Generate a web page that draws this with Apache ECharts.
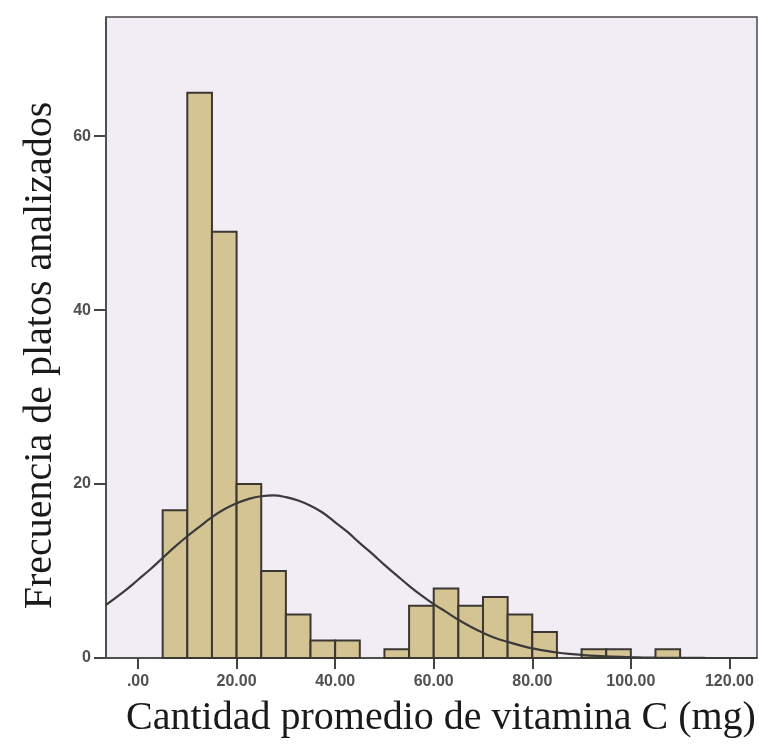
<!DOCTYPE html>
<html>
<head>
<meta charset="utf-8">
<script src="https://cdn.jsdelivr.net/npm/echarts@6/dist/echarts.min.js"></script>
<style>html,body{margin:0;padding:0;background:#fff}#c{width:759px;height:745px}</style>
</head>
<body>
<div id="c"></div>
<script>
// Histogram bins (mg of vitamin C), width 5
const binStarts = [5,10,15,20,25,30,35,40,45,50,55,60,65,70,75,80,85,90,95,100,105];
const binWidth = 5;
const counts = [17,65,49,20,10,5,2,2,0,1,6,8,6,7,5,3,0,1,1,0,1];

// Normal curve
const curveX = [-6.5,-2.5,0,2.5,5,7.5,10,12.5,15,17.5,20,22.5,25,27.5,30,32.5,35,37.5,40,42.5,45,47.5,50,52.5,55,57.5,60,62.5,65,67.5,70,72.5,75,77.5,80,82.5,85,87.5,90,95,100,105,110,115,125.6];
const curveY = [6.1,7.8,9.0,10.2,11.5,12.8,14.0,15.1,16.2,17.1,17.8,18.3,18.6,18.7,18.5,18.1,17.5,16.7,15.6,14.5,13.2,12.0,10.7,9.5,8.3,7.2,6.2,5.3,4.4,3.6,2.9,2.3,1.85,1.45,1.1,0.85,0.63,0.47,0.35,0.18,0.09,0.04,0.02,0.005,0];

// Tick labels
const xTicks = [0,20,40,60,80,100,120];
const xTickLabels = ['.00','20.00','40.00','60.00','80.00','100.00','120.00'];
const yTicks = [0,20,40,60];
const yTickLabels = ['0','20','40','60'];

const xTitle = 'Cantidad promedio de vitamina C (mg)';
const yTitle = 'Frecuencia de platos analizados';

const chart = echarts.init(document.getElementById('c'), null, {renderer: 'canvas'});

const barData = binStarts.map((s, i) => [s, s + binWidth, counts[i]]);
const lineData = curveX.map((x, i) => [x, curveY[i]]);

chart.setOption({
  animation: false,
  backgroundColor: '#ffffff',
  grid: {
    left: 106, right: 2, top: 17, bottom: 87,
    show: true,
    backgroundColor: '#f2ecf4',
    borderColor: '#4a4a4a',
    borderWidth: 1.5
  },
  xAxis: {
    type: 'value',
    min: -6.5,
    max: 125.6,
    splitLine: {show: false},
    axisLine: {show: true, onZero: false, lineStyle: {color: '#444', width: 1.5}},
    axisTick: {show: true, inside: false, customValues: xTicks, length: 11, lineStyle: {color: '#444', width: 2}},
    axisLabel: {
      customValues: xTicks,
      formatter: v => xTickLabels[xTicks.indexOf(v)],
      margin: 16,
      fontFamily: 'Liberation Sans, Arial, sans-serif',
      fontSize: 16,
      fontWeight: 'bold',
      color: '#505050'
    },
    name: xTitle,
    nameLocation: 'middle',
    nameGap: 40,
    nameTextStyle: {
      fontFamily: 'Liberation Serif, Times New Roman, serif',
      fontSize: 40,
      color: '#1a1a1a',
      padding: [0, 0, 0, 19]
    }
  },
  yAxis: {
    type: 'value',
    min: 0,
    max: 73.7,
    splitLine: {show: false},
    axisLine: {show: true, onZero: false, lineStyle: {color: '#444', width: 1.5}},
    axisTick: {show: true, inside: false, customValues: yTicks, length: 12, lineStyle: {color: '#444', width: 2}},
    axisLabel: {
      customValues: yTicks,
      formatter: v => yTickLabels[yTicks.indexOf(v)],
      margin: 15,
      fontFamily: 'Liberation Sans, Arial, sans-serif',
      fontSize: 16,
      fontWeight: 'bold',
      color: '#505050'
    },
    name: yTitle,
    nameLocation: 'middle',
    nameGap: 46,
    nameTextStyle: {
      fontFamily: 'Liberation Serif, Times New Roman, serif',
      fontSize: 40,
      color: '#1a1a1a',
      padding: [0, 36, 0, 0]
    }
  },
  series: [
    {
      type: 'custom',
      data: barData,
      encode: {x: [0, 1], y: 2},
      z: 2,
      renderItem: (params, api) => {
        const c = api.value(2);
        if (!c) return null;
        const p0 = api.coord([api.value(0), 0]);
        const p1 = api.coord([api.value(1), c]);
        return {
          type: 'rect',
          shape: {x: p0[0], y: p1[1], width: p1[0] - p0[0], height: p0[1] - p1[1]},
          style: {fill: '#d4c493', stroke: '#3b3733', lineWidth: 2}
        };
      }
    },
    {
      type: 'line',
      data: lineData,
      smooth: 0.4,
      showSymbol: false,
      z: 3,
      lineStyle: {color: '#3a3a3a', width: 2.2}
    }
  ]
});
</script>
</body>
</html>
